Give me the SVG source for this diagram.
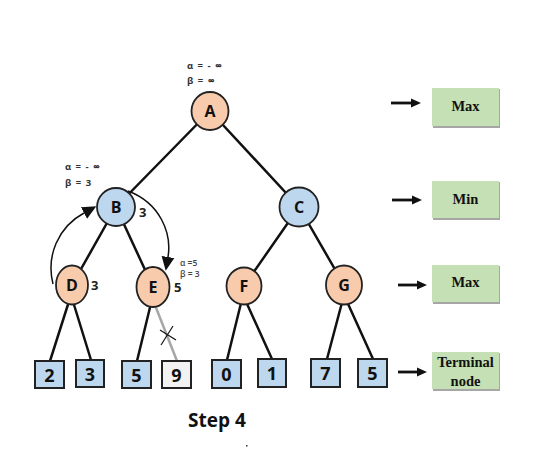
<svg xmlns="http://www.w3.org/2000/svg" width="533" height="452" viewBox="0 0 533 452">
<style>
.edge{stroke:#111;stroke-width:2.5;fill:none;stroke-linecap:round}
.arc{stroke:#111;stroke-width:1.5;fill:none}
.max{fill:#f8cbad;stroke:#222;stroke-width:1.8}
.min{fill:#bdd7ee;stroke:#222;stroke-width:1.8}
.leaf{fill:#bdd7ee;stroke:#222;stroke-width:2}
.nl{font-family:"Open Sans",sans-serif;font-weight:700;font-size:16px;fill:#111;text-anchor:middle;dominant-baseline:central}
.lv{font-family:"Open Sans",sans-serif;font-weight:700;font-size:18px;fill:#111;text-anchor:middle;dominant-baseline:central}
.val{font-family:"Open Sans",sans-serif;font-weight:700;font-size:13px;fill:#222}
.ab{font-family:"Open Sans",sans-serif;font-weight:700;font-size:9.5px;fill:#333}
.abs{font-family:"Open Sans",sans-serif;font-weight:600;font-size:8.5px;fill:#444}
.inf{font-weight:800}
.gbox{fill:#c5e0b4}
.gsh{fill:#a6a6a6}
.gl{font-family:"Liberation Serif",serif;font-weight:700;font-size:14.5px;fill:#111;text-anchor:middle}
.rarr{stroke:#111;stroke-width:2.8}
.step{font-family:"Open Sans",sans-serif;font-weight:700;font-size:19px;fill:#111;text-anchor:middle}
</style>
<defs>
<marker id="ah" markerUnits="userSpaceOnUse" markerWidth="14" markerHeight="14" refX="0" refY="6" orient="auto" viewBox="0 0 13 12">
<path d="M0,0 L13,6 L0,12 Z" fill="#111"/>
</marker>
<marker id="rh" markerUnits="userSpaceOnUse" markerWidth="10" markerHeight="10" refX="0" refY="4.5" orient="auto" viewBox="0 0 10 9">
<path d="M0,0 L10,4.5 L0,9 Z" fill="#111"/>
</marker>
</defs>
<rect width="533" height="452" fill="#fff"/>

<g id="connectors">
<line class="edge" x1="210" y1="111" x2="116" y2="207"/>
<line class="edge" x1="210" y1="111" x2="299" y2="207"/>
<line class="edge" x1="116" y1="207" x2="72" y2="285"/>
<line class="edge" x1="116" y1="207" x2="153" y2="287"/>
<line class="edge" x1="299" y1="207" x2="244" y2="286"/>
<line class="edge" x1="299" y1="207" x2="344" y2="285"/>
<line class="edge" x1="71" y1="295" x2="50" y2="361"/>
<line class="edge" x1="71" y1="295" x2="91" y2="360"/>
<line class="edge" x1="153" y1="295" x2="137" y2="361"/>
<line x1="153" y1="300" x2="177" y2="361" stroke="#a6a6a6" stroke-width="2.5"/>
<line x1="161" y1="345" x2="173" y2="326" stroke="#111" stroke-width="1.2"/>
<line x1="160" y1="330" x2="176" y2="340" stroke="#111" stroke-width="1.2"/>
<line class="edge" x1="243" y1="295" x2="227" y2="360"/>
<line class="edge" x1="243" y1="295" x2="272" y2="359"/>
<line class="edge" x1="344" y1="295" x2="327" y2="359"/>
<line class="edge" x1="344" y1="295" x2="373" y2="359"/>
<path class="arc" d="M53,284 C46,256 58,227 84,213" marker-end="url(#ah)"/>
<path class="arc" d="M128,191 C160,203 172,233 168,257" marker-end="url(#ah)"/>
<line class="rarr" x1="391" y1="103" x2="411" y2="103" marker-end="url(#rh)"/>
<line class="rarr" x1="392" y1="200" x2="412" y2="200" marker-end="url(#rh)"/>
<line class="rarr" x1="398" y1="285" x2="417" y2="285" marker-end="url(#rh)"/>
<line class="rarr" x1="398" y1="372" x2="417" y2="372" marker-end="url(#rh)"/>
</g>

<g id="node-A"><ellipse class="max" cx="210" cy="111" rx="18.5" ry="19"/><text class="nl" x="210" y="111">A</text></g>
<g id="node-B"><ellipse class="min" cx="116" cy="207" rx="19" ry="19"/><text class="nl" x="116" y="207">B</text></g>
<g id="node-C"><ellipse class="min" cx="299" cy="207" rx="19.5" ry="19.5"/><text class="nl" x="299" y="207">C</text></g>
<g id="node-D"><ellipse class="max" cx="72" cy="285" rx="16" ry="19.5"/><text class="nl" x="72" y="285">D</text></g>
<g id="node-E"><ellipse class="max" cx="153" cy="287" rx="16.5" ry="20"/><text class="nl" x="153" y="287">E</text></g>
<g id="node-F"><ellipse class="max" cx="244" cy="286" rx="17.5" ry="18.5"/><text class="nl" x="244" y="286">F</text></g>
<g id="node-G"><ellipse class="max" cx="344" cy="285" rx="18" ry="19.5"/><text class="nl" x="344" y="285">G</text></g>

<g id="leaf-2"><rect class="leaf" x="35" y="361" width="29" height="27"/><text class="lv" x="49.5" y="374.5">2</text></g>
<g id="leaf-3"><rect class="leaf" x="76" y="360" width="28" height="27"/><text class="lv" x="90" y="373.5">3</text></g>
<g id="leaf-5a"><rect class="leaf" x="122" y="361" width="29" height="27"/><text class="lv" x="136.5" y="374.5">5</text></g>
<g id="leaf-9"><rect class="leaf" x="162" y="361" width="29" height="27" style="fill:#f2f2f2"/><text class="lv" x="176.5" y="374.5">9</text></g>
<g id="leaf-0"><rect class="leaf" x="212" y="360" width="29" height="28"/><text class="lv" x="226.5" y="374">0</text></g>
<g id="leaf-1"><rect class="leaf" x="258" y="359" width="28" height="28"/><text class="lv" x="272" y="373">1</text></g>
<g id="leaf-7"><rect class="leaf" x="311" y="359" width="29" height="28"/><text class="lv" x="325.5" y="373">7</text></g>
<g id="leaf-5b"><rect class="leaf" x="358" y="359" width="29" height="28"/><text class="lv" x="372.5" y="373">5</text></g>

<g id="labels">
<text class="ab" x="187" y="69" letter-spacing="1">α = - <tspan class="inf">∞</tspan></text>
<text class="ab" x="187" y="83.5" letter-spacing="1">β = <tspan class="inf">∞</tspan></text>
<text class="ab" x="65" y="170" letter-spacing="1">α = - <tspan class="inf">∞</tspan></text>
<text class="ab" x="65" y="186" letter-spacing="1">β = 3</text>
<text class="abs" x="180" y="265.5">α =5</text>
<text class="abs" x="180" y="276.5">β =  3</text>
<text class="val" x="139" y="216.5">3</text>
<text class="val" x="91" y="290">3</text>
<text class="val" x="174" y="292">5</text>
</g>

<g id="legend-max1"><rect class="gsh" x="433" y="89" width="67" height="39"/><rect class="gbox" x="432" y="88" width="67" height="38"/><text class="gl" x="465.5" y="111">Max</text></g>
<g id="legend-min"><rect class="gsh" x="433" y="182" width="67" height="38"/><rect class="gbox" x="432" y="181" width="67" height="37"/><text class="gl" x="465.5" y="203.5">Min</text></g>
<g id="legend-max2"><rect class="gsh" x="433" y="266" width="67" height="38"/><rect class="gbox" x="432" y="265" width="67" height="37"/><text class="gl" x="465.5" y="287">Max</text></g>
<g id="legend-terminal"><rect class="gsh" x="433" y="353" width="67" height="38"/><rect class="gbox" x="432" y="352" width="67" height="37"/><text class="gl" x="465.5" y="367">Terminal</text><text class="gl" x="465.5" y="386">node</text></g>

<text class="step" x="217" y="427">Step 4</text>
<rect x="246" y="445" width="1.5" height="1.5" fill="#333"/>
</svg>
